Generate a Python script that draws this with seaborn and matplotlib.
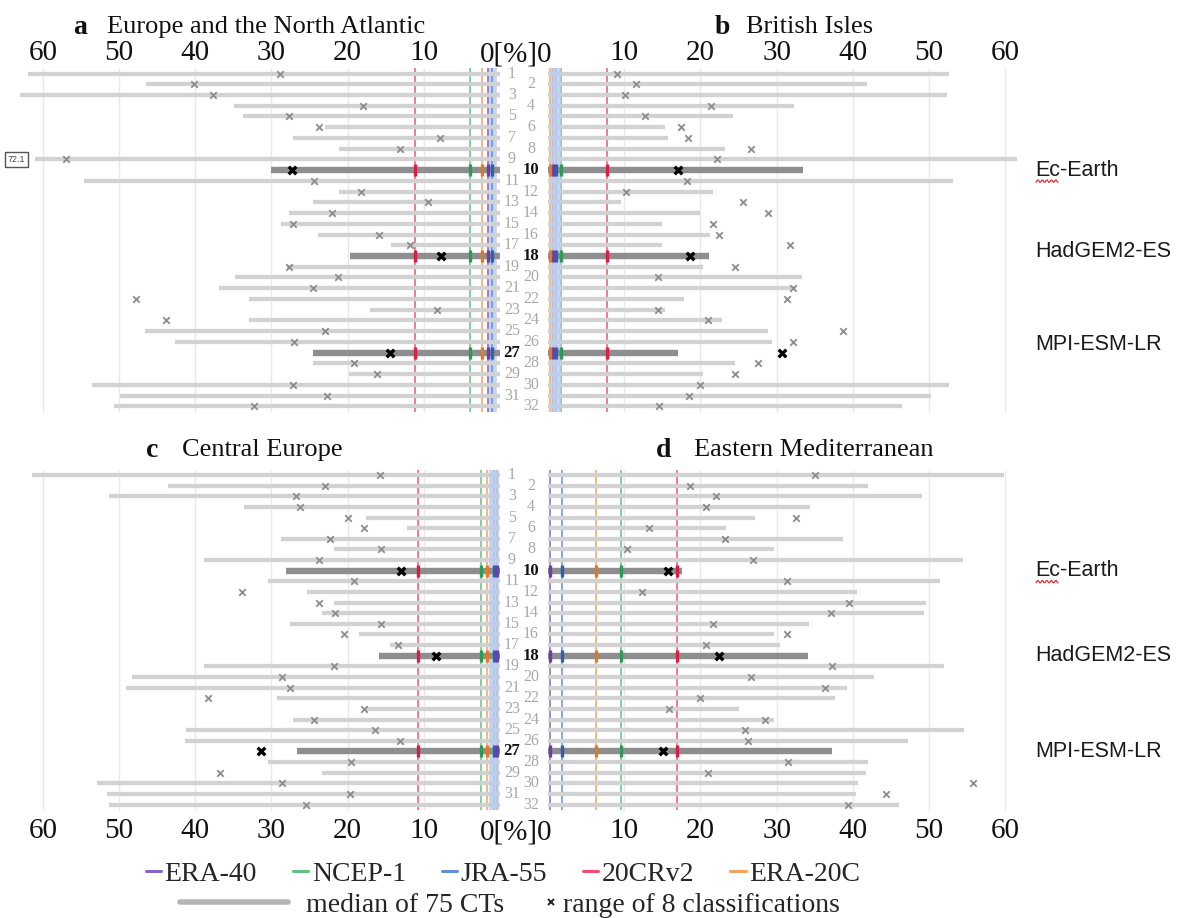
import matplotlib
matplotlib.use("Agg")
import matplotlib.pyplot as plt
from matplotlib.lines import Line2D
from matplotlib import transforms
import numpy as np
import pandas as pd
import seaborn as sns

# ---------------- data ----------------
rows = list(range(1, 33))
highlight_rows = [10, 18, 27]
model_names = ["Ec-Earth", "HadGEM2-ES", "MPI-ESM-LR"]
top_label_rows = [10, 17.6, 26.2]
bottom_label_rows = [10, 18, 27]
tick_values = [10, 20, 30, 40, 50, 60]
tick_labels = ["10", "20", "30", "40", "50", "60"]
zero_label = "0[%]0"

reanalysis_names = ["ERA-40", "NCEP-1", "JRA-55", "20CRv2", "ERA-20C"]
reanalysis_colors = ["#8b64c0", "#5cc27c", "#5b8fd9", "#f2506c", "#f2a35e"]
reanalysis_dark = ["#6a3fa8", "#2e9a55", "#2f5fb0", "#d81e45", "#e07a25"]

panel_titles = ["Europe and the North Atlantic", "British Isles", "Central Europe", "Eastern Mediterranean"]
panel_letters = ["a", "b", "c", "d"]

# panel a: Europe and the North Atlantic (bars to the left)
a_median = [61.9, 46.4, 63.0, 34.9, 33.7, 23.0, 27.2, 21.1, 72.1, 30.0,
            54.6, 21.1, 24.6, 27.7, 28.8, 23.9, 14.3, 19.7, 27.9, 34.8,
            36.9, 33.0, 17.1, 32.9, 46.6, 42.7, 24.5, 24.5, 19.8, 53.5, 49.9, 50.6]
a_range = [28.9, 40.1, 37.6, 18.0, 27.7, 23.8, 7.9, 13.1, 57.0, 27.3,
           24.4, 18.3, 9.5, 22.0, 27.2, 15.9, 11.8, 7.7, 27.7, 21.3,
           24.5, 47.8, 8.3, 43.8, 23.0, 27.0, 14.4, 19.2, 16.2, 27.2, 22.7, 32.3]
a_reanalysis = [1.6, 3.9, 1.0, 11.2, 2.4]

# panel b: British Isles (bars to the right)
b_median = [52.6, 41.8, 52.3, 32.3, 24.3, 15.3, 15.7, 23.2, 61.5, 33.4,
            53.1, 21.6, 9.6, 20.0, 15.0, 21.2, 15.0, 21.1, 20.3, 33.3,
            32.6, 17.9, 15.4, 22.8, 28.9, 29.4, 17.1, 24.5, 20.3, 52.6, 50.3, 46.5]
b_range = [9.0, 11.6, 10.1, 21.4, 12.7, 17.4, 18.4, 26.6, 22.2, 17.1,
           18.2, 10.3, 25.6, 28.9, 21.6, 22.5, 31.8, 18.6, 24.6, 14.5,
           32.2, 31.3, 14.5, 21.0, 38.7, 32.1, 30.7, 27.5, 24.6, 20.0, 18.5, 14.6]
b_reanalysis = [0.6, 1.7, 1.1, 7.7, 0.25]

# panel c: Central Europe (bars to the left)
c_median = [61.4, 43.6, 51.3, 33.6, 17.6, 12.2, 28.8, 21.8, 38.9, 28.1,
            30.5, 25.3, 21.8, 23.4, 27.6, 18.5, 14.5, 15.9, 38.9, 48.3,
            49.1, 29.3, 17.6, 27.2, 41.2, 41.3, 26.7, 30.5, 23.3, 52.9, 51.6, 51.3]
c_range = [15.7, 23.0, 26.8, 26.3, 19.9, 17.9, 22.3, 15.6, 23.7, 13.0,
           19.2, 33.9, 23.7, 21.6, 15.6, 20.5, 13.4, 8.4, 21.8, 28.6,
           27.5, 38.3, 17.9, 24.4, 16.4, 13.1, 31.4, 19.5, 36.7, 28.6, 19.7, 25.4]
c_reanalysis = [0.35, 2.5, 0.75, 10.8, 1.75]

# panel d: Eastern Mediterranean (bars to the right)
d_median = [59.9, 42.0, 49.1, 34.4, 27.2, 23.3, 38.7, 29.6, 54.4, 17.6,
            51.4, 40.6, 49.6, 49.4, 34.3, 29.6, 30.5, 34.1, 52.0, 42.8,
            39.2, 37.6, 25.0, 29.7, 54.6, 47.2, 37.3, 42.0, 41.7, 40.7, 40.4, 46.0]
d_range = [35.0, 18.7, 22.0, 20.7, 32.5, 13.3, 23.2, 10.4, 26.9, 15.7,
           31.3, 12.3, 39.5, 37.1, 21.7, 31.4, 20.7, 22.4, 37.3, 26.7,
           36.3, 19.9, 15.9, 28.5, 25.8, 26.3, 15.1, 31.5, 21.0, 55.8, 44.4, 39.4]
d_reanalysis = [0.2, 9.6, 1.8, 16.9, 6.3]

# ---------------- layout ----------------
W, H = 1182, 918
PX_PER_PCT = 7.62
LEFT_ZERO, RIGHT_ZERO = 500, 548
XL = LEFT_ZERO / PX_PER_PCT
XR = (W - RIGHT_ZERO) / PX_PER_PCT
BAR_CAP = 61.0
TICK_FS = 21

sns.set_theme(style="white")
plt.rcParams["font.family"] = ["Liberation Serif", "DejaVu Serif"]
SANS = ["Liberation Sans", "DejaVu Sans"]

fig = plt.figure(figsize=(W / 100, H / 100), dpi=100)


def rect(px_left, px_top, px_right, px_bottom):
    return [px_left / W, 1 - px_bottom / H, (px_right - px_left) / W, (px_bottom - px_top) / H]


top_band = (67.1, 412.7)
bot_band = (468.6, 811.0)

ax_a = fig.add_axes(rect(0, top_band[0], LEFT_ZERO, top_band[1]))
ax_b = fig.add_axes(rect(RIGHT_ZERO, top_band[0], W, top_band[1]))
ax_c = fig.add_axes(rect(0, bot_band[0], LEFT_ZERO, bot_band[1]))
ax_d = fig.add_axes(rect(RIGHT_ZERO, bot_band[0], W, bot_band[1]))


def draw_panel(ax, median, rng, rean, side, top, band_z):
    df = pd.DataFrame({"row": rows, "median": median, "range": rng})
    df["hl"] = df["row"].isin(highlight_rows)
    limit = XL if side == "left" else XR
    df["shown"] = df["median"].where(df["median"] < limit, BAR_CAP)
    ax.set_ylim(32.6, 0.4)
    if side == "left":
        ax.set_xlim(XL, 0)
    else:
        ax.set_xlim(0, XR)
    for s in ax.spines.values():
        s.set_visible(False)
    ax.set_facecolor("none")
    ax.vlines(tick_values, 0.5, 32.5, color="#e9e9e9", lw=1.0, zorder=0)
    if band_z is not None:
        ax.vlines(rean[2], 0.5, 32.5, color="#bccdec", lw=7, zorder=band_z, alpha=0.85)
    for val, col in zip(rean, reanalysis_colors):
        ax.vlines(val, 0.5, 32.5, color=col, lw=1.2, zorder=1, alpha=0.9)
    norm = df[~df["hl"]]
    hl = df[df["hl"]]
    ax.hlines(norm["row"], 0, norm["shown"], color="#d2d2d2", lw=3.1, zorder=2)
    ax.hlines(hl["row"], 0, hl["shown"], color="#8e8e8e", lw=4.6, zorder=3)
    for val, col in zip(rean, reanalysis_dark):
        ax.plot([val] * len(highlight_rows), highlight_rows, ls="none", marker="|",
                ms=9, mew=2.4, color=col, zorder=4)
    sns.scatterplot(data=norm, x="range", y="row", marker="x", color="#8c8c8c",
                    s=22, linewidth=1.3, ax=ax, zorder=5, legend=False)
    sns.scatterplot(data=hl, x="range", y="row", marker="x", color="#000000",
                    s=30, linewidth=2.4, ax=ax, zorder=6, legend=False)
    ax.set_xlabel("")
    ax.set_ylabel("")
    ax.set_yticks([])
    ax.set_xticks(tick_values)
    ax.set_xticklabels(tick_labels, fontsize=TICK_FS, color="#111111")
    if top:
        ax.xaxis.set_ticks_position("top")
        ax.tick_params(axis="x", length=0, pad=1)
    else:
        ax.xaxis.set_ticks_position("bottom")
        ax.tick_params(axis="x", length=0, pad=5)
    over = df[df["median"] >= limit]
    for _, r in over.iterrows():
        ax.text(BAR_CAP + 2.5, r["row"], f"{r['median']:.1f}", fontsize=6.5, ha="center", va="center",
                family=SANS, color="#444444", zorder=7,
                bbox=dict(boxstyle="square,pad=0.3", fc="white", ec="#555555", lw=1.0))
    return df


draw_panel(ax_a, a_median, a_range, a_reanalysis, "left", True, 1)
draw_panel(ax_b, b_median, b_range, b_reanalysis, "right", True, 2.5)
draw_panel(ax_c, c_median, c_range, c_reanalysis, "left", False, 2.5)
draw_panel(ax_d, d_median, d_range, d_reanalysis, "right", False, None)

# row numbers and model labels
for ax, label_rows in ((ax_a, top_label_rows), (ax_c, bottom_label_rows)):
    tr = transforms.blended_transform_factory(fig.transFigure, ax.transData)
    for r in rows:
        x = 512 / W if r % 2 == 1 else 531 / W
        if r in highlight_rows:
            ax.text(x, r, str(r), transform=tr, ha="center", va="center", fontsize=12,
                    fontweight="bold", color="#111111", zorder=8, clip_on=False)
        else:
            ax.text(x, r, str(r), transform=tr, ha="center", va="center", fontsize=11.5,
                    color="#a8a8a8", zorder=8, clip_on=False)
    for name, r in zip(model_names, label_rows):
        ax.text(1035 / W, r, name, transform=tr, ha="left", va="center", fontsize=15.5,
                family=SANS, color="#1a1a1a", clip_on=False)
    # spell-check squiggle under "Ec"
    yrow = tr.transform((0, label_rows[0]))[1]
    xs = np.linspace(1036, 1058, 23)
    ys = yrow - 11 + 1.3 * np.sin(xs * 1.4)
    fig.add_artist(Line2D(xs / W, ys / H, color="#e03030", lw=0.9, transform=fig.transFigure))

# shared zero labels
fig.text(516 / W, 1 - 54 / H, zero_label, ha="center", va="center", fontsize=TICK_FS, color="#111111")
fig.text(516 / W, 1 - 832 / H, zero_label, ha="center", va="center", fontsize=TICK_FS, color="#111111")

# titles
title_pos = [(73, 107, 27), (715, 746, 27), (146, 182, 450), (656, 694, 450)]
for (lx, tx, ty), letter, title in zip(title_pos, panel_letters, panel_titles):
    fig.text(lx / W, 1 - ty / H, letter, fontsize=20, fontweight="bold", ha="left", va="center", color="#111111")
    fig.text(tx / W, 1 - ty / H, title, fontsize=19, ha="left", va="center", color="#111111")

# legends
LEG_FS = 20
h1 = [Line2D([0], [0], color=c, lw=2.2) for c in reanalysis_colors]
fig.legend(h1, reanalysis_names, loc="center left", bbox_to_anchor=(146 / W, 1 - 874 / H), ncol=5,
           frameon=False, fontsize=LEG_FS, handlelength=0.55, handletextpad=0.12, columnspacing=1.3,
           borderpad=0, borderaxespad=0)
h2 = [Line2D([0], [0], color="#b5b5b5", lw=4)]
fig.legend(h2, ["median of 75 CTs"], loc="center left",
           bbox_to_anchor=(180 / W, 1 - 905 / H), frameon=False, fontsize=LEG_FS,
           handlelength=3.9, handletextpad=0.65, borderpad=0, borderaxespad=0)
h3 = [Line2D([0], [0], color="#222222", ls="none", marker="x", ms=4, mew=1.4)]
fig.legend(h3, ["range of 8 classifications"], loc="center left",
           bbox_to_anchor=(545 / W, 1 - 905 / H), frameon=False, fontsize=LEG_FS,
           handlelength=0.45, handletextpad=0.2, borderpad=0, borderaxespad=0)

fig.savefig("out.png", dpi=100)
